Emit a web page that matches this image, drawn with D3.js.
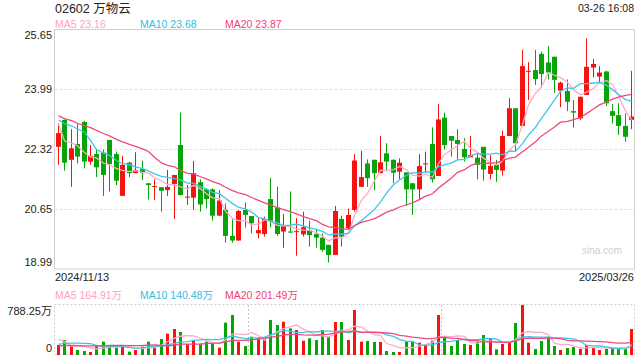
<!DOCTYPE html>
<html>
<head>
<meta charset="utf-8">
<script src="https://cdn.jsdelivr.net/npm/d3@7"></script>
<style>
  html, body { margin: 0; padding: 0; background: #fff; }
  svg { display: block; font-family: "Liberation Sans", Arial, "Noto Sans CJK SC", sans-serif; }
</style>
</head>
<body>
<svg id="chart" width="640" height="360"></svg>
<script>
// ---------- data ----------
const title = "02602 万物云";
const stamp = "03-26 16:08";
const firstDate = "2024/11/13";
const lastDate = "2025/03/26";
const priceTicks = [25.65, 23.99, 22.32, 20.65, 18.99];
const volTicks = [0, 788.25];
const priceLegend = ["MA5 23.16", "MA10 23.68", "MA20 23.87"];
const volLegend = ["MA5 164.91万", "MA10 140.48万", "MA20 201.49万"];

const open = [22.38,23.13,22.02,22.46,23.07,21.97,22.18,22.22,22.57,22.18,
  21.02,21.94,21.65,21.76,21.37,21.28,21.26,21.18,21.35,22.43,
  20.97,20.97,21.40,21.20,21.20,20.47,20.63,19.91,19.78,20.63,
  20.46,19.98,19.96,20.93,20.69,20.03,20.03,20.03,19.95,20.07,
  19.96,19.86,19.66,19.38,20.38,20.12,20.63,21.27,21.92,22.02,
  21.65,22.20,22.02,21.69,21.67,21.37,21.20,21.91,22.46,21.57,
  23.19,22.68,22.57,22.32,22.09,22.08,22.38,21.63,21.88,21.72,
  22.68,23.45,22.96,24.48,24.51,24.96,24.72,24.88,23.94,23.93,
  23.37,23.17,23.82,24.58,24.33,24.47,23.37,23.26,22.96,23.13];
const high = [23.03,23.14,22.87,23.03,23.10,22.43,22.31,22.31,22.57,22.25,
  22.13,21.97,22.23,21.99,21.37,21.48,21.26,21.74,21.60,23.33,
  21.32,21.99,21.48,21.23,21.23,21.18,20.81,20.37,20.63,20.83,
  20.46,20.40,20.44,21.52,21.27,20.52,21.14,20.40,20.58,20.33,
  20.09,19.98,19.66,20.74,20.47,20.67,22.18,22.27,22.03,22.03,
  22.68,22.48,22.03,22.06,21.67,21.37,22.18,22.25,22.92,23.57,
  23.33,22.68,22.87,22.62,22.68,22.20,22.38,22.15,22.02,22.83,
  23.73,23.45,25.07,24.73,25.07,25.02,25.18,24.88,24.19,24.25,
  23.68,23.77,25.39,24.82,24.62,24.49,23.57,23.59,23.31,24.49];
const low = [21.88,21.72,21.27,21.92,21.78,21.88,21.54,21.02,21.14,21.32,
  21.02,21.54,21.65,21.46,20.92,20.91,20.58,21.02,20.38,21.04,
  20.77,20.63,20.58,20.67,20.33,20.47,19.72,19.72,19.78,20.14,
  19.98,19.84,19.89,20.15,19.91,19.58,20.00,19.36,19.89,19.61,
  19.58,19.47,19.17,19.38,19.61,20.10,20.58,21.27,21.27,21.18,
  21.65,21.74,21.37,21.48,20.74,20.49,20.92,21.66,21.39,21.57,
  22.31,22.11,22.02,21.97,22.09,21.48,21.44,21.48,21.41,21.58,
  22.68,22.27,22.96,23.68,24.10,24.03,24.25,23.88,23.48,23.37,
  22.92,23.13,23.82,24.31,24.14,23.51,23.03,22.71,22.52,22.87];
const close = [22.76,21.94,22.34,22.11,21.97,22.13,21.81,21.60,21.90,21.44,
  21.88,21.65,21.74,21.65,21.32,21.29,21.16,21.27,21.60,21.04,
  21.00,21.65,20.78,20.93,20.47,20.89,19.91,19.78,20.60,20.49,
  20.26,20.07,20.38,20.33,19.96,20.18,20.00,20.04,20.15,19.93,
  19.86,19.52,19.38,20.60,19.89,20.49,22.00,21.54,21.51,21.65,
  21.95,21.97,21.66,21.94,21.20,21.20,21.85,21.92,21.48,23.14,
  22.43,22.55,22.46,22.09,22.15,21.88,21.75,21.85,21.74,22.68,
  23.45,22.48,24.62,24.49,24.26,24.40,24.44,24.24,24.16,23.63,
  23.33,23.77,24.60,24.68,24.44,23.59,23.24,22.96,22.66,23.22];
// volume in 万
const volume = [158,236,147,79,63,47,147,210,158,116,
  131,53,79,131,210,116,252,336,410,363,
  173,226,168,210,184,116,510,631,210,142,
  289,263,273,552,473,525,420,394,226,263,
  236,394,289,520,520,236,709,210,221,205,
  205,63,47,47,210,210,194,158,226,631,
  279,142,236,173,158,210,315,252,89,173,
  194,504,788,194,95,221,289,142,79,110,
  126,95,158,116,79,95,105,100,105,410];
// sessions before the window (not drawn), estimated from where the MA lines start
const priorClose = [23.5,23.4,23.6,23.3,23.2,23.4,23.3,23.2,23.4,23.24,
  23.0,22.9,23.0,22.8,24.5,24.3,22.6,22.5,22.9];
const priorVolume = [120,100,140,110,95,130,105,125,115,120,
  95,80,100,85,85,420,487,90,79];
const maPeriods = [5, 10, 20];

// ---------- styles ----------
const UP = "#f5130f", DOWN = "#07a407";
const maColors = ["#ffaac8", "#3ec6e8", "#ee4a7e"];
const legendColors = ["#ff9fc2", "#2fc0e2", "#ee3f76"];

// ---------- helpers ----------
function movingAvg(prior, vals, n) {
  const all = prior.concat(vals);
  const off = prior.length;
  return vals.map((_, i) => d3.mean(all.slice(off + i - n + 1, off + i + 1)));
}

const svg = d3.select("#chart");
const L = 54.5, R = 634.5, T = 29.5, B = 269;
const VT = 305, VB = 355;
const N = close.length;

const x = d3.scaleBand().domain(d3.range(N)).range([L, R]).padding(0);
const cx = i => Math.round(x(i) + x.bandwidth() / 2);
const y = d3.scaleLinear().domain([18.99, 25.65]).range([269, 29]);
const yv = d3.scaleLinear().domain([0, 788.25]).range([VB, VT]);

// ---------- header ----------
svg.append("text").attr("x", 55).attr("y", 13).attr("font-size", 12.5).attr("fill", "#222").text(title);
svg.append("text").attr("x", 634).attr("y", 12).attr("text-anchor", "end").attr("font-size", 10.5).attr("fill", "#222").text(stamp);
const legX = [55, 140, 225];
svg.selectAll(".pleg").data(priceLegend).join("text")
  .attr("x", (d, i) => legX[i]).attr("y", 28).attr("font-size", 10.5)
  .attr("fill", (d, i) => legendColors[i]).text(d => d);

// ---------- main frame & grid ----------
const grid = svg.append("g");
grid.selectAll("line").data(priceTicks.slice(1, -1)).join("line")
  .attr("x1", L).attr("x2", R)
  .attr("y1", d => Math.round(y(d)) + 0.5).attr("y2", d => Math.round(y(d)) + 0.5)
  .attr("stroke", "#e2e2e2").attr("stroke-dasharray", "3,2");
svg.append("rect").attr("x", L).attr("y", T).attr("width", R - L).attr("height", B - T)
  .attr("fill", "none").attr("stroke", "#cfcfcf");

// price labels
svg.selectAll(".ptick").data(priceTicks).join("text")
  .attr("x", 52).attr("text-anchor", "end").attr("font-size", 11).attr("fill", "#222")
  .attr("y", (d, i) => i === 0 ? y(d) + 10 : (i === priceTicks.length - 1 ? y(d) - 3 : y(d) + 4))
  .text(d => d.toFixed(2));

// watermark
svg.append("text").attr("x", 622).attr("y", 254).attr("text-anchor", "end")
  .attr("font-size", 10).attr("fill", "#cfcfcf").text("sina.com");

// ---------- candles ----------
const cg = svg.append("g");
const color = i => close[i] >= open[i] ? UP : DOWN;
cg.selectAll(".wick").data(d3.range(N)).join("line")
  .attr("x1", i => cx(i) + 0.5).attr("x2", i => cx(i) + 0.5)
  .attr("y1", i => y(high[i])).attr("y2", i => y(low[i]))
  .attr("stroke", color).attr("stroke-width", 1);
cg.selectAll(".body").data(d3.range(N)).join("rect")
  .attr("x", i => cx(i) - 2).attr("width", 5)
  .attr("y", i => y(Math.max(open[i], close[i])))
  .attr("height", i => Math.max(1, Math.abs(y(open[i]) - y(close[i]))))
  .attr("fill", color);

// price MAs
const lineP = d3.line().x((d, i) => cx(i) + 0.5).y(d => y(d)).curve(d3.curveLinear);
maPeriods.forEach((n, k) => {
  svg.append("path").datum(movingAvg(priorClose, close, n))
    .attr("d", lineP).attr("fill", "none").attr("stroke", maColors[k]).attr("stroke-width", 1.3);
});

// dates
svg.append("text").attr("x", 55).attr("y", 281).attr("font-size", 11).attr("fill", "#222").text(firstDate);
svg.append("text").attr("x", 634).attr("y", 281).attr("text-anchor", "end").attr("font-size", 11).attr("fill", "#222").text(lastDate);

// ---------- volume panel ----------
svg.selectAll(".vleg").data(volLegend).join("text")
  .attr("x", (d, i) => legX[i]).attr("y", 299).attr("font-size", 10.5)
  .attr("fill", (d, i) => legendColors[i]).text(d => d);

svg.append("rect").attr("x", L).attr("y", VT - 0.5).attr("width", R - L).attr("height", VB - VT)
  .attr("fill", "none").attr("stroke", "#cccccc").attr("stroke-dasharray", "2,2");
svg.selectAll(".vsep").data([30, 60]).join("line")
  .attr("x1", i => Math.round(x(i)) + 0.5).attr("x2", i => Math.round(x(i)) + 0.5)
  .attr("y1", VT).attr("y2", VB)
  .attr("stroke", "#c8c8c8").attr("stroke-dasharray", "2,2");

svg.selectAll(".vtick").data(volTicks).join("text")
  .attr("x", 52).attr("text-anchor", "end").attr("font-size", 11).attr("fill", "#222")
  .attr("y", d => d === 0 ? yv(d) - 3 : yv(d) + 10)
  .text(d => d === 0 ? "0" : d.toFixed(2) + "万");

svg.append("g").selectAll("rect").data(d3.range(N)).join("rect")
  .attr("x", i => cx(i) - 1).attr("width", 3)
  .attr("y", i => yv(volume[i])).attr("height", i => VB - yv(volume[i]))
  .attr("fill", color);

const lineV = d3.line().x((d, i) => cx(i) + 0.5).y(d => yv(d));
maPeriods.forEach((n, k) => {
  svg.append("path").datum(movingAvg(priorVolume, volume, n))
    .attr("d", lineV).attr("fill", "none").attr("stroke", maColors[k]).attr("stroke-width", 1.3);
});
</script>
</body>
</html>
